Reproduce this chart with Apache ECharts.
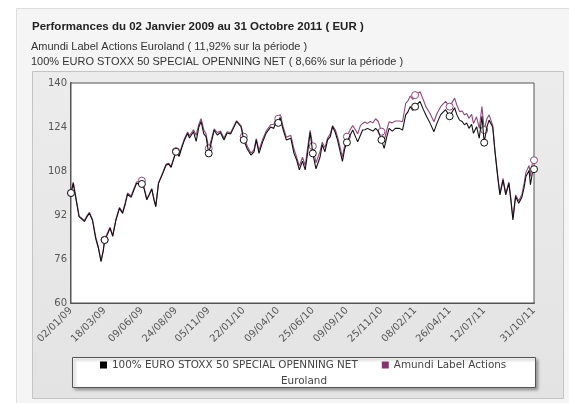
<!DOCTYPE html>
<html>
<head>
<meta charset="utf-8">
<script src="https://cdn.jsdelivr.net/npm/echarts@6/dist/echarts.min.js"></script>
<style>
html,body{margin:0;padding:0;background:#fff;}
#c{width:569px;height:403px;}
</style>
</head>
<body>
<div id="c"></div>
<script>
// Tick labels and their day offsets (days since 02/01/2009)
const tickLabels = ['02/01/09','18/03/09','09/06/09','24/08/09','05/11/09','22/01/10','09/04/10','25/06/10','09/09/10','25/11/10','08/02/11','26/04/11','12/07/11','31/10/11'];
const tickDays = [0,75,158,234,307,385,462,539,615,692,767,844,921,1032];

// Observation days (days since 02/01/2009)
const days = [0,5,18,24,30,36,41,48,55,61,67,72,75,80,87,93,100,108,115,121,126,134,140,146,158,163,169,175,180,185,189,195,203,212,218,223,234,241,247,253,260,264,267,273,279,285,290,296,301,307,313,319,326,333,341,348,356,362,369,379,385,393,401,408,413,419,427,435,445,452,457,462,466,473,480,490,497,503,509,516,522,527,533,539,546,549,555,560,566,572,578,583,589,594,600,605,610,615,622,628,634,639,645,650,655,661,667,673,679,685,692,698,704,709,716,723,732,739,746,751,756,762,767,778,785,791,800,809,816,824,830,835,844,855,860,866,872,877,882,887,893,897,904,910,916,921,927,932,940,945,951,956,963,969,976,980,985,991,998,1005,1010,1014,1021,1024,1028,1032];

const euroStoxx = [100,103.5,91.4,90.5,89.6,91.5,92.6,90,83.5,80,75,79,82.9,84.5,87.2,84.2,90,94.4,92.6,96,99.6,98.4,101,103.5,103.3,101.5,97.5,99.5,101.4,97.5,95,103.5,106.5,110.2,110.5,109.3,115,113.3,116.5,119.3,121.7,120,120,122.3,118.8,124,126,121.5,120.5,114.4,118.5,122.9,121.1,122,119.3,121.8,121.5,123.5,126,124,119.3,116,113.8,115,119.3,114.4,118.5,121.8,124,123.5,126,125.5,127.5,122.9,119.3,119.9,114.4,112,108.4,111.6,108.4,114,122.1,114.4,108.8,108.4,113,117.6,115,119.3,120.5,124.2,122,119.3,115,111.5,116,118.4,121,122.9,120.5,118.6,121,122.9,123,123.5,123,122.5,123.5,122.5,119.3,116.2,120.5,123.5,122.5,123.5,123.5,122.9,128.4,129.5,131.4,130,131.4,133.3,130.5,128.4,125.5,122.3,125.5,128.5,129.5,130.3,127.9,131,128.5,126.5,126,124.8,125.5,123.5,125,121.7,124.1,119.9,127.9,118.3,124,126.5,124,115,106,99.3,104.7,99.3,103.5,98,90.2,98.7,96.3,98.5,102,106,108.2,103,107,108.66];

const amundi = [100,104,91.6,90.8,90,91.8,93,90.3,84,80.3,75.3,79.3,83,85,87.6,84.6,90.4,94.8,93,96.5,100,98.9,101.5,104,104.5,102,97.8,99.8,101.6,97.8,95.3,103.7,106.8,110.5,110.8,109.6,115.2,113.8,117,119.8,122.2,120.8,121,123,121,125,127,123,121.5,116.2,119.5,123.3,122,122.5,120,122.3,122,124,126.3,124.5,120.5,117,114.5,115.8,119.8,115.5,119.5,122.5,124.8,125,127,127,128.6,124,120.3,121,116,113,109.8,113,110,116,122.8,117,111,110.5,115,118.5,116.5,120,121.5,124.5,123,120.5,116.5,113,117.5,120.5,123,124.5,123,121.5,124.5,125.3,125.8,125.3,126,125.5,127,126,122.3,119,123,125.9,125.5,126.2,126.2,125.9,132.6,133.5,135.3,134,135.6,136.8,134,131.4,129,125.9,129,131.4,132.5,133.3,131.4,134.5,132,129.6,129.8,128.4,128.9,127.2,128.6,125.3,127.7,123.5,131.4,122.9,127,128.4,124.5,115.5,106.5,99.8,105.3,99.8,104,98.7,91,99.3,97.2,99.5,103.5,107.5,110,106,110.5,111.92];

const seriesNames = ['100% EURO STOXX 50 SPECIAL OPENNING NET', 'Amundi Label Actions Euroland'];
const seriesColors = ['#111111', '#8f4a7a'];

const chart = echarts.init(document.getElementById('c'), null, {renderer: 'canvas'});

function pairs(vals) { return days.map((d, i) => [d, vals[i]]); }
function markSize(v) { return tickDays.indexOf(v[0]) >= 0 ? 7 : 0; }

const option = {
  animation: false,
  backgroundColor: '#ffffff',
  graphic: [
    { type: 'rect', z: -10, shape: {x: 16.5, y: 8.5, width: 560, height: 400},
      style: {fill: '#f5f5f5', stroke: '#dddddd', lineWidth: 1}, silent: true },
    { type: 'rect', z: -9, shape: {x: 32.5, y: 71.5, width: 531, height: 327},
      style: {fill: new echarts.graphic.LinearGradient(0, 0, 0, 1, [{offset: 0, color: '#ececec'}, {offset: 1, color: '#e3e3e3'}]), stroke: '#c4c4c4', lineWidth: 1}, silent: true },
    { type: 'text', left: 32, top: 21, z: 10,
      style: {text: 'Performances du 02 Janvier 2009 au 31 Octobre 2011 ( EUR )', font: 'bold 11.5px "Liberation Sans", Arial, sans-serif', fill: '#222222'} },
    { type: 'text', left: 31, top: 41, z: 10,
      style: {text: 'Amundi Label Actions Euroland ( 11,92% sur la période )', font: '11px "Liberation Sans", Arial, sans-serif', fill: '#333333'} },
    { type: 'text', left: 31, top: 56, z: 10,
      style: {text: '100% EURO STOXX 50 SPECIAL OPENNING NET ( 8,66% sur la période )', font: '11px "Liberation Sans", Arial, sans-serif', fill: '#333333'} },
    { type: 'rect', z: 1, shape: {x: 72.5, y: 357.5, width: 463, height: 30},
      style: {fill: '#ffffff', stroke: '#555555', lineWidth: 1, shadowBlur: 3, shadowOffsetX: 2, shadowOffsetY: 2, shadowColor: 'rgba(0,0,0,0.35)'}, silent: true },
    { type: 'text', x: 304, y: 381, z: 10,
      style: {text: 'Euroland', font: '10.4px "DejaVu Sans", Verdana, sans-serif', fill: '#444444', align: 'center', verticalAlign: 'middle'} }
  ],
  legend: {
    left: 100, top: 360, padding: 0, itemGap: 24,
    itemWidth: 7, itemHeight: 7, icon: 'rect', z: 20,
    textStyle: {fontFamily: '"DejaVu Sans", Verdana, sans-serif', fontSize: 10.4, color: '#444444'},
    formatter: function (n) { return n === seriesNames[1] ? 'Amundi Label Actions' : n; },
    data: [
      {name: seriesNames[0], itemStyle: {color: '#000000', borderWidth: 0}},
      {name: seriesNames[1], itemStyle: {color: '#833569', borderWidth: 0}}
    ]
  },
  grid: {left: 71, right: 35, top: 83, bottom: 100, show: true, backgroundColor: '#ffffff', borderColor: '#555555', borderWidth: 1, z: 2},
  xAxis: {
    type: 'value', min: 0, max: 1032,
    splitLine: {show: false},
    axisTick: {show: false},
    axisLine: {show: true, lineStyle: {color: '#555555', width: 2}},
    axisLabel: {
      customValues: tickDays,
      rotate: 45, margin: 6, hideOverlap: false,
      fontFamily: '"DejaVu Sans", Verdana, sans-serif', fontSize: 10, color: '#555555',
      formatter: function (v) { const i = tickDays.indexOf(v); return i >= 0 ? tickLabels[i] : ''; }
    }
  },
  yAxis: {
    type: 'value', min: 60, max: 140, interval: 16,
    axisLine: {show: true, lineStyle: {color: '#555555', width: 2}},
    axisTick: {show: false},
    axisLabel: {margin: 4, fontFamily: '"DejaVu Sans", Verdana, sans-serif', fontSize: 10, color: '#555555'},
    splitLine: {show: true, lineStyle: {color: '#d6d6d6', width: 1}},
    splitArea: {show: true, areaStyle: {color: ['#ffffff', '#f4f4f4']}}
  },
  series: [
    {
      name: seriesNames[1], type: 'line', data: pairs(amundi), z: 3,
      symbol: 'circle', symbolSize: markSize, showSymbol: true, showAllSymbol: true,
      lineStyle: {color: seriesColors[1], width: 1.1},
      itemStyle: {color: '#ffffff', borderColor: seriesColors[1], borderWidth: 1}
    },
    {
      name: seriesNames[0], type: 'line', data: pairs(euroStoxx), z: 4,
      symbol: 'circle', symbolSize: markSize, showSymbol: true, showAllSymbol: true,
      lineStyle: {color: seriesColors[0], width: 1.1},
      itemStyle: {color: '#ffffff', borderColor: seriesColors[0], borderWidth: 1}
    }
  ]
};
chart.setOption(option);
</script>
</body>
</html>
